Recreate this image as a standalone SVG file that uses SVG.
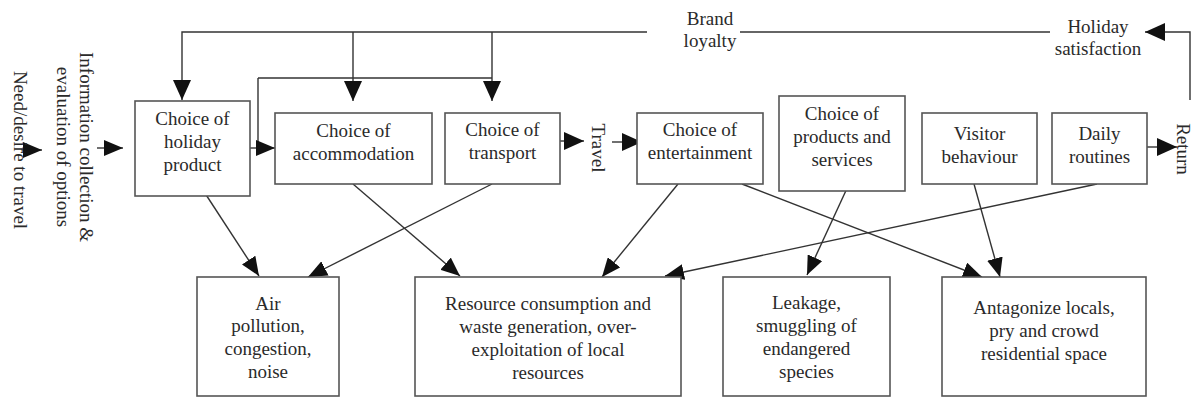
<svg xmlns="http://www.w3.org/2000/svg" width="1192" height="398" viewBox="0 0 1192 398">
<style>
.box{fill:#fff;stroke:#555;stroke-width:1.6}
.ln{fill:none;stroke:#333;stroke-width:1.4}
.t{font-family:"Liberation Serif","Times New Roman",serif;font-size:19px;fill:#2a2a2a;text-anchor:middle}
</style>
<defs>
<marker id="ah" markerUnits="userSpaceOnUse" markerWidth="20" markerHeight="18" refX="20" refY="9" orient="auto">
<path d="M0,0 L20,9 L0,18 Z" fill="#111"/>
</marker>
<marker id="as" markerUnits="userSpaceOnUse" markerWidth="19" markerHeight="16" refX="19" refY="8" orient="auto">
<path d="M0,0 L19,8 L0,16 Z" fill="#111"/>
</marker>
</defs>
<rect width="1192" height="398" fill="#fff"/>

<g id="connectors">
<!-- top feedback lines -->
<path class="ln" d="M647,32 H182 V100" marker-end="url(#ah)"/>
<path class="ln" d="M353,32 V101" marker-end="url(#ah)"/>
<path class="ln" d="M492,32 V101" marker-end="url(#ah)"/>
<path class="ln" d="M740,32 H1050"/>
<path class="ln" d="M1190,100 V32 H1145" marker-end="url(#ah)"/>
<path class="ln" d="M258,78 H492"/>
<path class="ln" d="M258,78 V148"/>
<!-- main flow -->
<path class="ln" d="M22,150 H42" marker-end="url(#as)"/>
<path class="ln" d="M97,148 H123" marker-end="url(#as)"/>
<path class="ln" d="M250,148 H275" marker-end="url(#as)"/>
<path class="ln" d="M552,141 H584" marker-end="url(#ah)"/>
<path class="ln" d="M612,142 H642" marker-end="url(#ah)"/>
<path class="ln" d="M1147,147 H1177" marker-end="url(#ah)"/>
<!-- impact arrows -->
<path class="ln" d="M199,184 L259,276" marker-end="url(#as)"/>
<path class="ln" d="M492,184 L308,277" marker-end="url(#as)"/>
<path class="ln" d="M353,184 L460,276" marker-end="url(#as)"/>
<path class="ln" d="M678,184 L602,277" marker-end="url(#as)"/>
<path class="ln" d="M1097,184 L665,276" marker-end="url(#as)"/>
<path class="ln" d="M849,184 L807,275" marker-end="url(#as)"/>
<path class="ln" d="M742,184 L982,277" marker-end="url(#as)"/>
<path class="ln" d="M974,184 L1000,277" marker-end="url(#as)"/>
</g>

<g id="need">
<text class="t" transform="translate(14,150) rotate(90)">Need/desire to travel</text>
</g>
<g id="information">
<text class="t" transform="translate(80,147) rotate(90)">Information collection &amp;</text>
<text class="t" transform="translate(57,147) rotate(90)">evaluation of options</text>
</g>
<g id="holiday-product">
<rect class="box" x="135" y="101" width="115" height="95"/>
<text class="t" x="192.5" y="125">Choice of</text>
<text class="t" x="192.5" y="148">holiday</text>
<text class="t" x="192.5" y="171">product</text>
</g>
<g id="accommodation">
<rect class="box" x="275" y="113" width="157" height="71"/>
<text class="t" x="353.5" y="137">Choice of</text>
<text class="t" x="353.5" y="160">accommodation</text>
</g>
<g id="transport">
<rect class="box" x="445" y="113" width="115" height="71"/>
<text class="t" x="502.5" y="136">Choice of</text>
<text class="t" x="502.5" y="159">transport</text>
</g>
<g id="travel">
<text class="t" transform="translate(592,148) rotate(90)">Travel</text>
</g>
<g id="entertainment">
<rect class="box" x="637" y="113" width="126" height="71"/>
<text class="t" x="700" y="136">Choice of</text>
<text class="t" x="700" y="159">entertainment</text>
</g>
<g id="products">
<rect class="box" x="779" y="96" width="126" height="95"/>
<text class="t" x="842" y="120">Choice of</text>
<text class="t" x="842" y="143">products and</text>
<text class="t" x="842" y="166">services</text>
</g>
<g id="visitor">
<rect class="box" x="922" y="113" width="115" height="71"/>
<text class="t" x="979.5" y="140">Visitor</text>
<text class="t" x="979.5" y="163">behaviour</text>
</g>
<g id="daily">
<rect class="box" x="1052" y="113" width="95" height="71"/>
<text class="t" x="1099.5" y="140">Daily</text>
<text class="t" x="1099.5" y="163">routines</text>
</g>
<g id="return">
<text class="t" transform="translate(1177,149) rotate(90)">Return</text>
</g>
<g id="brand-loyalty">
<text class="t" x="710" y="25">Brand</text>
<text class="t" x="710" y="47">loyalty</text>
</g>
<g id="holiday-satisfaction">
<text class="t" x="1098" y="33">Holiday</text>
<text class="t" x="1098" y="55">satisfaction</text>
</g>
<g id="air">
<rect class="box" x="197" y="277" width="142" height="119"/>
<text class="t" x="268" y="310">Air</text>
<text class="t" x="268" y="332">pollution,</text>
<text class="t" x="268" y="355">congestion,</text>
<text class="t" x="268" y="378">noise</text>
</g>
<g id="resource">
<rect class="box" x="415" y="277" width="266" height="119"/>
<text class="t" x="548" y="310">Resource consumption and</text>
<text class="t" x="548" y="333">waste generation, over-</text>
<text class="t" x="548" y="356">exploitation of local</text>
<text class="t" x="548" y="379">resources</text>
</g>
<g id="leakage">
<rect class="box" x="723" y="277" width="167" height="119"/>
<text class="t" x="806.5" y="309">Leakage,</text>
<text class="t" x="806.5" y="332">smuggling of</text>
<text class="t" x="806.5" y="355">endangered</text>
<text class="t" x="806.5" y="378">species</text>
</g>
<g id="antagonize">
<rect class="box" x="942" y="277" width="204" height="119"/>
<text class="t" x="1044" y="314">Antagonize locals,</text>
<text class="t" x="1044" y="337">pry and crowd</text>
<text class="t" x="1044" y="360">residential space</text>
</g>
</svg>
